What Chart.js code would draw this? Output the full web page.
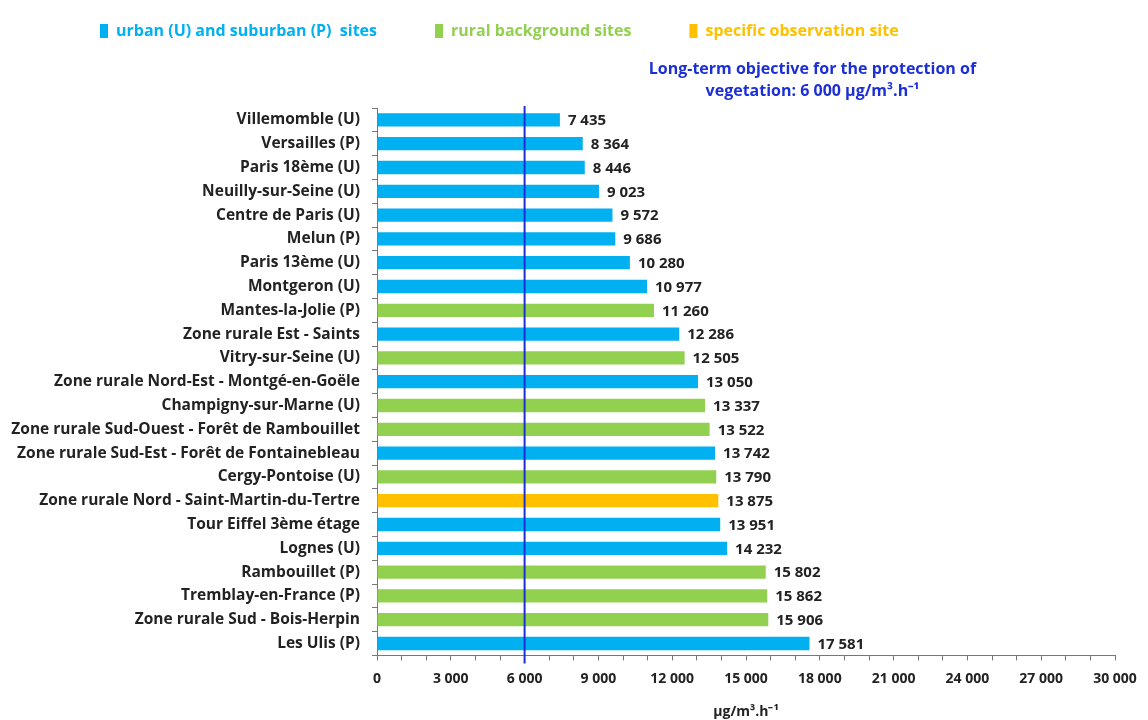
<!DOCTYPE html>
<html>
<head>
<meta charset="utf-8">
<script src="https://cdn.jsdelivr.net/npm/chart.js@4.4.1/dist/chart.umd.min.js"></script>
<style>
  body { margin: 0; background: #fff; }
  #wrap { width: 1148px; height: 720px; position: relative; }
</style>
</head>
<body>
<div id="wrap"><canvas id="aotChart"></canvas></div>
<script>
// AOT40 vegetation values per site (µg/m³.h)
const sites = [
  'Villemomble (U)', 'Versailles (P)', 'Paris 18ème (U)', 'Neuilly-sur-Seine (U)',
  'Centre de Paris (U)', 'Melun (P)', 'Paris 13ème (U)', 'Montgeron (U)',
  'Mantes-la-Jolie (P)', 'Zone rurale Est - Saints', 'Vitry-sur-Seine (U)',
  'Zone rurale Nord-Est - Montgé-en-Goële', 'Champigny-sur-Marne (U)',
  'Zone rurale Sud-Ouest - Forêt de Rambouillet', 'Zone rurale Sud-Est - Forêt de Fontainebleau',
  'Cergy-Pontoise (U)', 'Zone rurale Nord - Saint-Martin-du-Tertre', 'Tour Eiffel 3ème étage',
  'Lognes (U)', 'Rambouillet (P)', 'Tremblay-en-France (P)', 'Zone rurale Sud - Bois-Herpin',
  'Les Ulis (P)'
];
const aotValues = [
  7435, 8364, 8446, 9023, 9572, 9686, 10280, 10977, 11260, 12286, 12505, 13050,
  13337, 13522, 13742, 13790, 13875, 13951, 14232, 15802, 15862, 15906, 17581
];
// u = urban/suburban, r = rural background, s = specific observation
const siteTypes = [
  'u', 'u', 'u', 'u', 'u', 'u', 'u', 'u', 'r', 'u', 'r', 'u',
  'r', 'r', 'u', 'r', 's', 'u', 'u', 'r', 'r', 'r', 'u'
];
const groupNames = ['urban (U) and suburban (P)  sites', 'rural background sites', 'specific observation site'];
const groupKeys = ['u', 'r', 's'];
const objectiveValue = 6000;
const objectiveText = ['Long-term objective for the protection of', 'vegetation: 6 000 µg/m³.h⁻¹'];

const groupColors = ['#00B0F0', '#92D050', '#FFC000'];
const FONT = '"Open Sans", sans-serif';
const LEGEND_PAD = 58;

function spaced(n) {
  return String(n).replace(/\B(?=(\d{3})+(?!\d))/g, ' ');
}

const datasets = groupKeys.map((key, g) => ({
  label: groupNames[g],
  data: aotValues.map((v, i) => (siteTypes[i] === key ? v : null)),
  backgroundColor: groupColors[g],
  borderWidth: 0,
  grouped: false,
  categoryPercentage: 1,
  barPercentage: 0.56
}));

// value labels to the right of each bar
const valueLabels = {
  id: 'valueLabels',
  afterDatasetsDraw(chart) {
    const ctx = chart.ctx;
    ctx.save();
    ctx.font = 'bold 15px ' + FONT;
    ctx.fillStyle = '#222';
    ctx.textBaseline = 'middle';
    chart.data.datasets.forEach((ds, d) => {
      chart.getDatasetMeta(d).data.forEach((bar, i) => {
        if (ds.data[i] == null) return;
        ctx.fillText(spaced(ds.data[i]), bar.x + 8, bar.y + 1);
      });
    });
    ctx.restore();
  }
};

// vertical objective line + its caption
const objectiveLine = {
  id: 'objectiveLine',
  afterDatasetsDraw(chart) {
    const { ctx, chartArea, scales } = chart;
    const x = scales.x.getPixelForValue(objectiveValue);
    ctx.save();
    ctx.strokeStyle = '#1c2fd6';
    ctx.lineWidth = 2;
    ctx.beginPath();
    ctx.moveTo(x, chartArea.top - 2);
    ctx.lineTo(x, chartArea.bottom + 8);
    ctx.stroke();
    ctx.fillStyle = '#1c2fd6';
    ctx.font = 'bold 16px ' + FONT;
    ctx.textAlign = 'center';
    ctx.textBaseline = 'middle';
    const cx = scales.x.getPixelForValue(17700);
    ctx.fillText(objectiveText[0], cx, chartArea.top - 39);
    ctx.fillText(objectiveText[1], cx, chartArea.top - 17);
    ctx.restore();
  }
};

// leave room under the legend for the objective caption, and pull it left
const legendSpacer = {
  id: 'legendSpacer',
  beforeInit(chart) {
    const fit = chart.legend.fit;
    chart.legend.fit = function () {
      fit.bind(chart.legend)();
      this.height += 59;
    };
  },
  afterLayout(chart) {
    chart.legend.left = 100 - LEGEND_PAD;
  }
};

new Chart(document.getElementById('aotChart'), {
  type: 'bar',
  data: { labels: sites, datasets: datasets },
  plugins: [legendSpacer, valueLabels, objectiveLine],
  options: {
    indexAxis: 'y',
    responsive: true,
    maintainAspectRatio: false,
    animation: false,
    layout: { padding: { top: -35, left: 10, right: 33, bottom: 0 } },
    scales: {
      x: {
        min: 0,
        max: 30000,
        grid: { drawOnChartArea: false, drawTicks: true, tickLength: 5, color: '#777' },
        border: { color: '#777' },
        ticks: {
          stepSize: 1000,
          autoSkip: false,
          maxRotation: 0,
          padding: 10,
          color: '#222',
          font: { family: FONT, size: 14, weight: 'bold' },
          callback: v => (v % 3000 === 0 ? spaced(v) : '')
        },
        title: {
          display: true,
          text: 'µg/m³.h⁻¹',
          color: '#222',
          font: { family: FONT, size: 14, weight: 'bold' },
          padding: { top: 6, bottom: 0 }
        }
      },
      y: {
        afterFit(scale) { scale.width = 367; },
        grid: { drawOnChartArea: false, drawTicks: true, tickLength: 5, color: '#777', offset: true },
        border: { color: '#777' },
        ticks: {
          autoSkip: false,
          padding: 12,
          color: '#222',
          font: { family: FONT, size: 15.5, weight: 'bold' }
        }
      }
    },
    plugins: {
      legend: {
        position: 'top',
        align: 'start',
        labels: {
          boxWidth: 8,
          boxHeight: 14,
          padding: LEGEND_PAD,
          font: { family: FONT, size: 16, weight: 'bold' },
          generateLabels(chart) {
            return chart.data.datasets.map((ds, i) => ({
              text: ds.label,
              fillStyle: ds.backgroundColor,
              strokeStyle: ds.backgroundColor,
              lineWidth: 0,
              fontColor: ds.backgroundColor,
              datasetIndex: i,
              hidden: false
            }));
          }
        }
      },
      tooltip: { enabled: false }
    }
  }
});
</script>
</body>
</html>
